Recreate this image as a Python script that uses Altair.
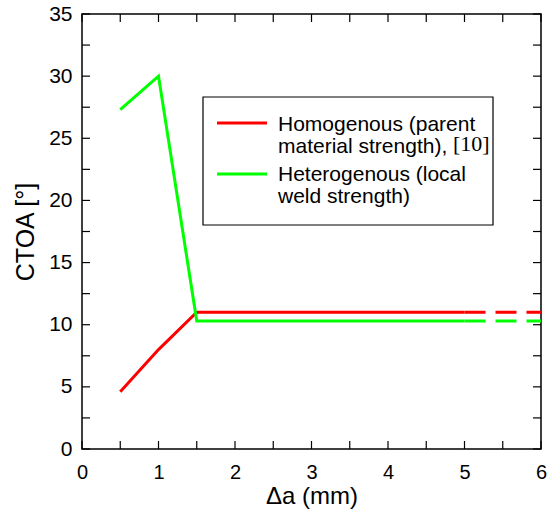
import altair as alt
import pandas as pd

# data
hom_x = [0.5, 1.0, 1.5, 5.0]
hom_y = [4.6, 8.0, 11.0, 11.0]
het_x = [0.5, 1.0, 1.5, 5.0]
het_y = [27.3, 30.0, 10.3, 10.3]
hom_ext_x = [5.0, 6.0]
hom_ext_y = [11.0, 11.0]
het_ext_x = [5.0, 6.0]
het_ext_y = [10.3, 10.3]
x_ticks = [i * 0.5 for i in range(13)]
y_ticks = [i * 2.5 for i in range(15)]
x_labels = [0, 1, 2, 3, 4, 5, 6]
y_labels = [0, 5, 10, 15, 20, 25, 30, 35]

W, H = 459, 435
FONT = "Liberation Sans"

xs = alt.Scale(domain=[0, 6], nice=False)
ys = alt.Scale(domain=[0, 35], nice=False)

XAX = alt.Axis(values=x_labels, ticks=False, domain=False, grid=False, labelFlush=False,
               labelPadding=13, labelFontSize=20, labelFont=FONT, labelColor="black",
               title="Δa (mm)", titleFontSize=24, titleFont=FONT, titleFontWeight="normal",
               titleColor="black", titlePadding=2)
YAX = alt.Axis(values=y_labels, ticks=False, domain=False, grid=False, labelFlush=False,
               labelPadding=10, labelFontSize=21, labelFont=FONT, labelColor="black",
               title="CTOA [°]", titleFontSize=25, titleFont=FONT, titleFontWeight="normal",
               titleColor="black", titlePadding=10)

def X(f):
    return alt.X(f, scale=xs, axis=XAX, title="Δa (mm)")

def Y(f):
    return alt.Y(f, scale=ys, axis=YAX, title="CTOA [°]")

def solid(xv, yv, color):
    df = pd.DataFrame({"x": xv, "y": yv})
    return alt.Chart(df).mark_line(color=color, strokeWidth=3).encode(x=X("x:Q"), y=Y("y:Q"))

def dashed(xv, yv, color):
    df = pd.DataFrame({"x": xv, "y": yv})
    return alt.Chart(df).mark_line(color=color, strokeWidth=3, strokeDash=[21, 10]).encode(
        x=X("x:Q"), y=Y("y:Q"))

xt = pd.DataFrame({"v": x_ticks})
yt = pd.DataFrame({"v": y_ticks})
tick_b = alt.Chart(xt).mark_rule(color="black", strokeWidth=1.2).encode(
    x=X("v:Q"), y=alt.value(H), y2=alt.value(H - 8))
tick_t = alt.Chart(xt).mark_rule(color="black", strokeWidth=1.2).encode(
    x=X("v:Q"), y=alt.value(0), y2=alt.value(8))
tick_l = alt.Chart(yt).mark_rule(color="black", strokeWidth=1.2).encode(
    y=Y("v:Q"), x=alt.value(0), x2=alt.value(8))
tick_r = alt.Chart(yt).mark_rule(color="black", strokeWidth=1.2).encode(
    y=Y("v:Q"), x=alt.value(W), x2=alt.value(W - 8))

one = pd.DataFrame({"a": [0]})
box = alt.Chart(one).mark_rect(fill="white", stroke="black", strokeWidth=1.2).encode(
    x=alt.value(121), x2=alt.value(411), y=alt.value(83), y2=alt.value(211))
leg_red = alt.Chart(one).mark_rule(color="#ff0000", strokeWidth=3).encode(
    x=alt.value(135), x2=alt.value(185), y=alt.value(109))
leg_green = alt.Chart(one).mark_rule(color="#00ff00", strokeWidth=3).encode(
    x=alt.value(135), x2=alt.value(185), y=alt.value(160))

def label(s, y):
    return alt.Chart(one).mark_text(align="left", baseline="middle", fontSize=21, font=FONT,
                                    color="black").encode(
        x=alt.value(196), y=alt.value(y), text=alt.value(s))

ref = alt.Chart(one).mark_text(align="left", baseline="middle", fontSize=22, font="Liberation Serif",
                               color="black").encode(
    x=alt.value(371), y=alt.value(130), text=alt.value("[10]"))

chart = alt.layer(
    tick_b, tick_t, tick_l, tick_r,
    solid(hom_x, hom_y, "#ff0000"), solid(het_x, het_y, "#00ff00"),
    dashed(hom_ext_x, hom_ext_y, "#ff0000"), dashed(het_ext_x, het_ext_y, "#00ff00"),
    box, leg_red, leg_green,
    label("Homogenous (parent", 111), label("material strength),", 133), ref,
    label("Heterogenous (local", 161), label("weld strength)", 183),
).properties(
    width=W, height=H,
    autosize=alt.AutoSizeParams(type="none"),
    padding={"left": 82, "top": 14, "right": 10, "bottom": 64},
    background="white",
).configure_view(stroke="black", strokeWidth=1.5)

chart.save("out.html", embed_options={"renderer": "svg", "actions": False})
